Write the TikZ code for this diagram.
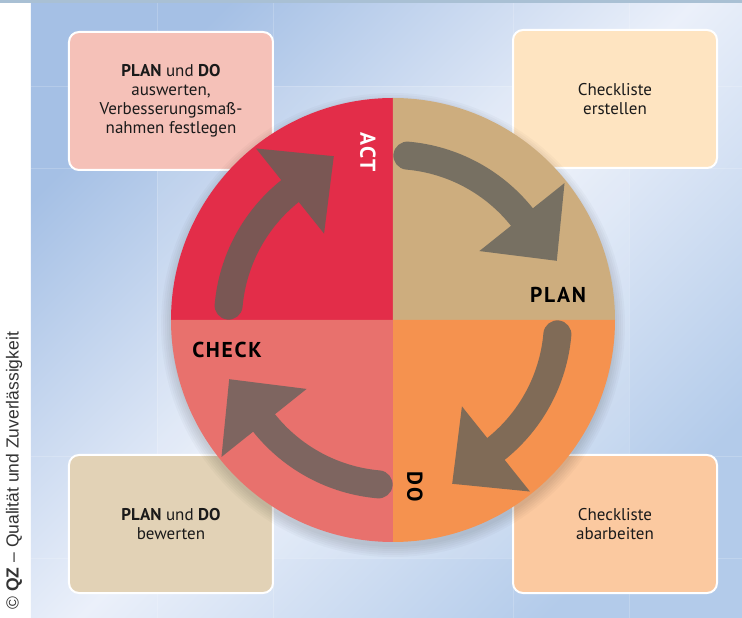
\documentclass[tikz,border=0pt]{standalone}
\usepackage{fontspec}
\setmainfont{PT Sans}
\newfontfamily\phasefont[LetterSpace=8]{PT Sans}
\newfontfamily\creditfont{Liberation Sans}

\definecolor{actred}{HTML}{E32D49}
\definecolor{plantan}{HTML}{CDAD7E}
\definecolor{doorange}{HTML}{F5924F}
\definecolor{checksalmon}{HTML}{E8716D}
\definecolor{arract}{HTML}{7A5754}
\definecolor{arrplan}{HTML}{777062}
\definecolor{arrdo}{HTML}{806B57}
\definecolor{arrcheck}{HTML}{7E6560}
\definecolor{boxact}{HTML}{F5C1B8}
\definecolor{boxplan}{HTML}{FEE4C1}
\definecolor{boxdo}{HTML}{FBC9A0}
\definecolor{boxcheck}{HTML}{E2D2B6}
\definecolor{bgblue}{HTML}{A5C0E5}
\definecolor{bgblue2}{HTML}{B3CBEA}
\definecolor{bgpale}{HTML}{EBF0FA}
\definecolor{topline}{HTML}{A9C0D4}
\definecolor{textdark}{HTML}{1A1A1A}

\begin{document}
\begin{tikzpicture}[x=1pt, y=1pt,
  taskbox/.style={draw=white, line width=2pt, rounded corners=10pt,
    minimum width=204pt, minimum height=138pt, align=center,
    text=textdark, font=\fontsize{17}{19}\selectfont},
  phase/.style={font=\phasefont\bfseries\fontsize{21.5}{24}\selectfont},
  shaft/.style={line width=28pt, line cap=round}]

\useasboundingbox (-393,-298) rectangle (349,320);

% background
\fill[white] (-393,-298) rectangle (349,320);
\shade[top color=bgblue, bottom color=bgblue2, middle color=bgpale, shading angle=45]
  (-362,-298) rectangle (349,317);
\fill[topline] (-393,317) rectangle (349,320);
\fill[white, opacity=0.12] (-236,-238) rectangle (236,234);
\draw[white, opacity=0.18]  (-236,-298) -- (-236,317)  (236,-298) -- (236,317)
  (-120,-298) -- (-120,317)  (120,-298) -- (120,317)
  (-362,234) -- (349,234)  (-362,-238) -- (349,-238)
  (-362,152) -- (349,152)  (-362,-136) -- (349,-136);

% credit line
\node[rotate=90, anchor=west, text=black!80, font=\creditfont\fontsize{17.5}{20}\selectfont]
  (credit) at (-379,-293) {© \textbf{QZ} – Qualität und Zuverlässigkeit};

% boxes
\node[taskbox, fill=boxact] (actbox) at (-222,219)
  {\textbf{PLAN} und \textbf{DO}\\auswerten,\\Verbesserungsmaß-\\nahmen festlegen};
\node[taskbox, fill=boxplan] (planbox) at (222,221) {Checkliste\\erstellen};
\node[taskbox, fill=boxdo] (dobox) at (222,-204) {Checkliste\\abarbeiten};
\node[taskbox, fill=boxcheck] (checkbox) at (-222,-204) {\textbf{PLAN} und \textbf{DO}\\bewerten};

% circle shadow
\foreach \r in {222,224,...,232}
  \fill[black, opacity=0.025] (0,-5) circle[radius=\r];

% quadrants
\foreach \a/\col in {90/actred, 0/plantan, -90/doorange, 180/checksalmon}
  \fill[\col] (0,0) -- (\a:222) arc[start angle=\a, end angle=\a+90, radius=222] -- cycle;

% arrows
\foreach \rot/\col in {0/arrplan, -90/arrdo, 180/arrcheck, 90/arract}
{
  \begin{scope}[rotate=\rot]
    \draw[shaft, draw=\col] (85:165) arc[start angle=85, end angle=38.6, radius=165];
    \fill[\col] (38.6:110.5) -- (38.6:219.5) -- (163.8,59.2) -- cycle;
  \end{scope}
}

% phase labels
\node[phase] (plan) at (165,25) {PLAN};
\node[phase] (check) at (-166,-30) {CHECK};
\node[phase, text=white, rotate=-90] (act) at (-25,168) {ACT};
\node[phase, rotate=-90] (do) at (22,-167) {DO};

\end{tikzpicture}
\end{document}
